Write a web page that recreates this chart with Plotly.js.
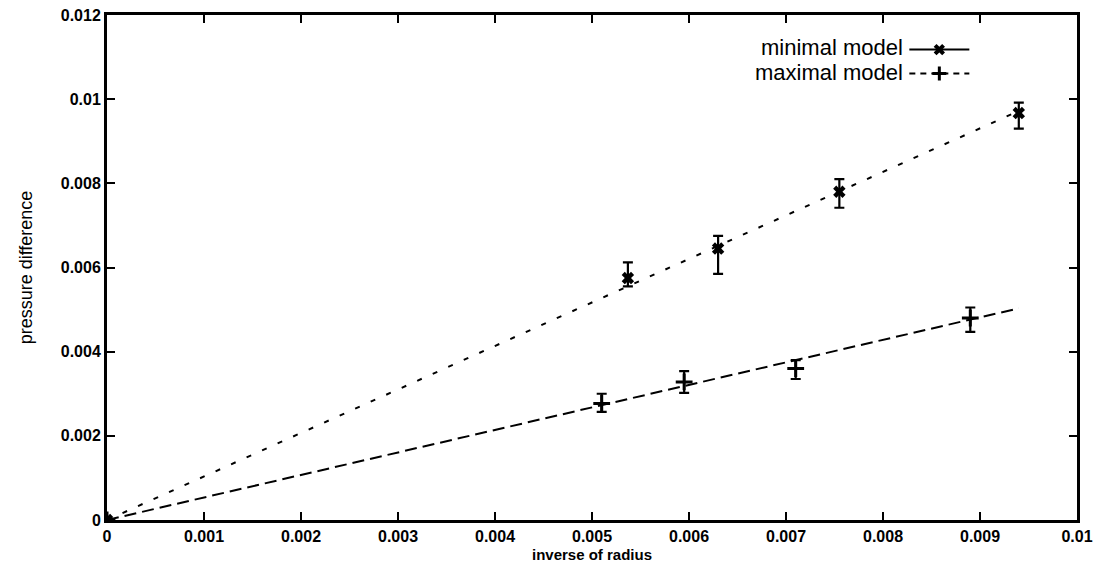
<!DOCTYPE html>
<html>
<head>
<meta charset="utf-8">
<script src="https://cdn.plot.ly/plotly-3.0.1.min.js"></script>
<style>html,body{margin:0;padding:0;background:#fff;}#chart{width:1109px;height:568px;}</style>
</head>
<body>
<div id="chart"></div>
<script>
// ---- data ----
const seriesNames = ["minimal model", "maximal model"];

const minimalX = [0, 0.00537, 0.0063, 0.00755, 0.0094];
const minimalY = [0, 0.00575, 0.00645, 0.0078, 0.00967];
const minimalErrPlus = [0, 0.00037, 0.0003, 0.0003, 0.00025];
const minimalErrMinus = [0, 0.0002, 0.0006, 0.00038, 0.00037];

const maximalX = [0, 0.0051, 0.00595, 0.0071, 0.0089];
const maximalY = [0, 0.00277, 0.00328, 0.0036, 0.0048];
const maximalErrPlus = [0, 0.00023, 0.00026, 0.0002, 0.00025];
const maximalErrMinus = [0, 0.0002, 0.00026, 0.00025, 0.00033];

const fitX = [0, 0.0094];
const minimalFitY = [0, 0.00972];
const maximalFitY = [0, 0.00503];

const xTitle = "inverse of radius";
const yTitle = "pressure difference";

// ---- traces ----
const font = "Liberation Sans, Arial, sans-serif";
const traces = [
  {x: fitX, y: minimalFitY, mode: "lines", showlegend: false, hoverinfo: "skip",
   line: {color: "#000", width: 2, dash: "5px,12px"}},
  {x: fitX, y: maximalFitY, mode: "lines", showlegend: false, hoverinfo: "skip",
   line: {color: "#000", width: 2, dash: "12px,6px"}},
  {x: minimalX, y: minimalY, mode: "markers", name: seriesNames[0], showlegend: false,
   marker: {symbol: "x", size: 11, color: "#000"},
   error_y: {type: "data", symmetric: false, array: minimalErrPlus, arrayminus: minimalErrMinus,
             color: "#000", thickness: 2.2, width: 5}},
  {x: maximalX, y: maximalY, mode: "markers", name: seriesNames[1], showlegend: false,
   marker: {symbol: "cross-thin-open", size: 12, color: "#000", line: {color: "#000", width: 3}},
   error_y: {type: "data", symmetric: false, array: maximalErrPlus, arrayminus: maximalErrMinus,
             color: "#000", thickness: 2.2, width: 5}},
  // legend samples (no data points)
  {x: [null], y: [null], mode: "lines+markers", name: " ",
   line: {color: "#000", width: 2}, marker: {symbol: "x", size: 10, color: "#000"}},
  {x: [null], y: [null], mode: "lines+markers", name: " ",
   line: {color: "#000", width: 2, dash: "6px,5px"},
   marker: {symbol: "cross-thin-open", size: 10, color: "#000", line: {color: "#000", width: 3}}}
];

const axisCommon = {
  showline: true, linecolor: "#000", linewidth: 3, mirror: "ticks",
  ticks: "inside", ticklen: 8, tickwidth: 2, tickcolor: "#000",
  showgrid: false, zeroline: false,
  tickfont: {family: font, size: 16, color: "#000", weight: "bold"}
};

const layout = {
  width: 1109, height: 568,
  margin: {l: 107, r: 32, t: 15, b: 48},
  paper_bgcolor: "#fff", plot_bgcolor: "#fff",
  font: {family: font, color: "#000"},
  xaxis: Object.assign({}, axisCommon, {
    range: [0, 0.01], tick0: 0, dtick: 0.001,
    title: {text: xTitle, standoff: 6, font: {family: font, size: 15, color: "#000", weight: "bold"}}
  }),
  yaxis: Object.assign({}, axisCommon, {
    range: [0, 0.012], tick0: 0, dtick: 0.002,
    title: {text: yTitle, standoff: 24, font: {family: "Liberation Sans Narrow, Liberation Sans, sans-serif", size: 18, color: "#000"}}
  }),
  showlegend: true,
  legend: {x: 0.822, xanchor: "left", y: 0.965, yanchor: "top", bgcolor: "rgba(0,0,0,0)",
           font: {family: font, size: 16}, itemwidth: 60, tracegroupgap: 0},
  annotations: [
    {xref: "paper", yref: "paper", x: 0.823, y: 0.935, xanchor: "right", yanchor: "middle",
     text: seriesNames[0], showarrow: false, font: {family: font, size: 22, color: "#000"}},
    {xref: "paper", yref: "paper", x: 0.823, y: 0.887, xanchor: "right", yanchor: "middle",
     text: seriesNames[1], showarrow: false, font: {family: font, size: 22, color: "#000"}}
  ]
};

Plotly.newPlot("chart", traces, layout, {displayModeBar: false, staticPlot: true});
</script>
</body>
</html>
